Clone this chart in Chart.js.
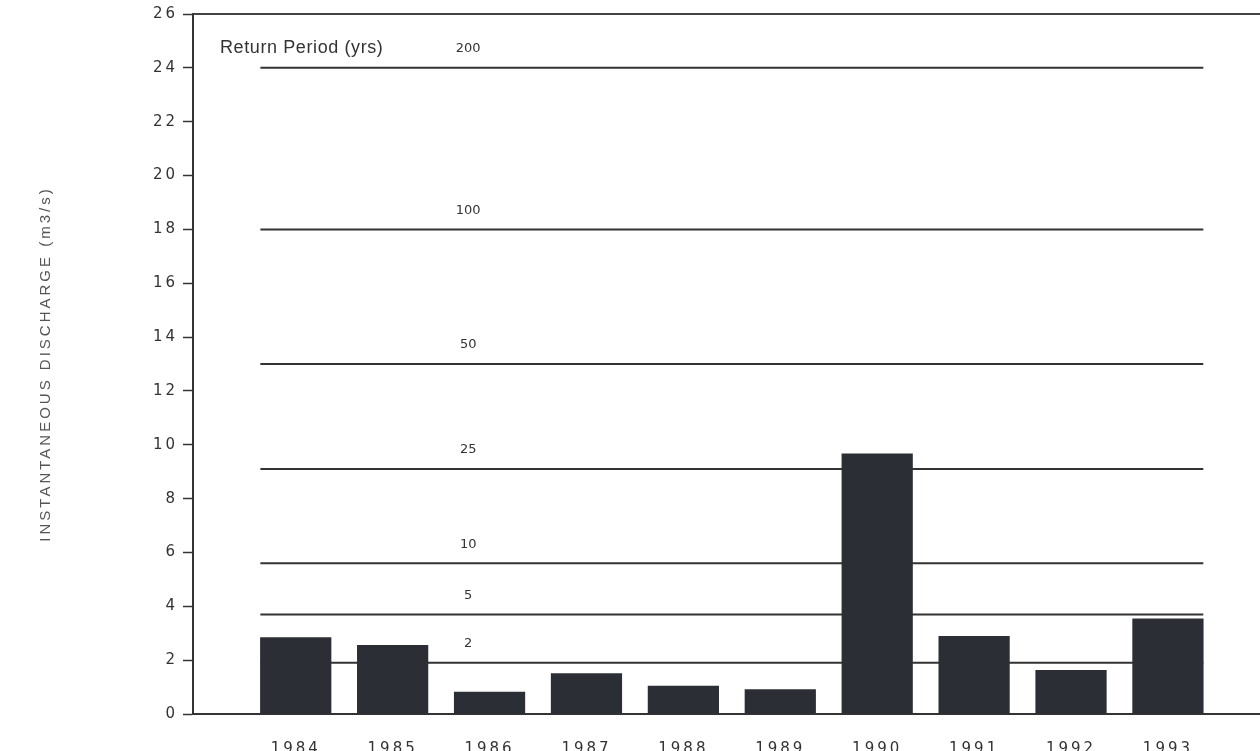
<!DOCTYPE html>
<html>
<head>
<meta charset="utf-8">
<script src="https://cdn.jsdelivr.net/npm/chart.js@4/dist/chart.umd.min.js"></script>
<style>
  html, body { margin: 0; padding: 0; background: #fff; }
  #wrap { width: 1260px; height: 751px; }
</style>
</head>
<body>
<div id="wrap"><canvas id="chart"></canvas></div>
<script>
// annual peak instantaneous discharge
const years = [1984, 1985, 1986, 1987, 1988, 1989, 1990, 1991, 1992, 1993];
const discharge = [2.85, 2.56, 0.83, 1.51, 1.05, 0.92, 9.68, 2.9, 1.63, 3.55];

// return period thresholds
const periods = ["200", "100", "50", "25", "10", "5", "2"];
const periodFlows = [24, 18, 13, 9.1, 5.6, 3.7, 1.9];

const yTicks = [0, 2, 4, 6, 8, 10, 12, 14, 16, 18, 20, 22, 24, 26];

const halfBar = 0.365;
const labelYear = 1985.78;

const periodSets = periodFlows.map((v, i) => ({
  type: "line",
  label: periods[i],
  data: [
    { x: years[0] - halfBar, y: v },
    { x: years[years.length - 1] + halfBar, y: v },
  ],
  borderColor: "#333",
  borderWidth: 2,
  pointRadius: 0,
  order: 2,
}));

const overlay = {
  id: "overlay",
  beforeDraw(chart) {
    chart.ctx.letterSpacing = "3px";
  },
  afterDraw(chart) {
    const { ctx, chartArea, scales } = chart;
    ctx.save();
    ctx.letterSpacing = "0.6px";
    // top frame line
    ctx.strokeStyle = "#444";
    ctx.lineWidth = 2;
    ctx.beginPath();
    ctx.moveTo(chartArea.left, chartArea.top);
    ctx.lineTo(chartArea.right, chartArea.top);
    ctx.stroke();

    ctx.fillStyle = "#333";
    ctx.textBaseline = "middle";
    ctx.font = "18px 'Liberation Sans', Arial, sans-serif";
    ctx.textAlign = "left";
    ctx.fillText("Return Period (yrs)", chartArea.left + 27, scales.y.getPixelForValue(periodFlows[0]) - 20);

    ctx.letterSpacing = "0px";
    ctx.font = "13px 'DejaVu Sans', sans-serif";
    ctx.textAlign = "center";
    periods.forEach((p, i) => {
      ctx.fillText(p, scales.x.getPixelForValue(labelYear), scales.y.getPixelForValue(periodFlows[i]) - 19);
    });
    ctx.restore();
  },
};

new Chart(document.getElementById("chart"), {
  type: "bar",
  data: {
    datasets: [
      {
        label: "Discharge",
        data: years.map((y, i) => ({ x: y, y: discharge[i] })),
        backgroundColor: "#2b2e35",
        barPercentage: 0.735,
        categoryPercentage: 1,
        order: 1,
      },
      ...periodSets,
    ],
  },
  options: {
    responsive: true,
    maintainAspectRatio: false,
    animation: false,
    layout: { padding: { left: 32, top: 13, right: 0, bottom: 0 } },
    plugins: {
      legend: { display: false },
      tooltip: { enabled: false },
      title: { display: false },
    },
    scales: {
      x: {
        type: "linear",
        offset: false,
        min: 1982.94,
        max: 1993.95,
        afterBuildTicks: (scale) => {
          scale.ticks = years.map((v) => ({ value: v }));
        },
        afterFit: (scale) => {
          scale.height = 37;
        },
        grid: { display: false, offset: false },
        border: { display: true, color: "#333", width: 2 },
        ticks: {
          padding: 18,
          color: "#333",
          font: { family: "'DejaVu Sans', sans-serif", size: 15 },
          callback: (v) => String(v),
        },
      },
      y: {
        min: 0,
        max: 26,
        afterBuildTicks: (scale) => {
          scale.ticks = yTicks.map((v) => ({ value: v }));
        },
        afterFit: (scale) => {
          scale.width = 161;
        },
        grid: {
          drawOnChartArea: false,
          drawTicks: true,
          tickLength: 10,
          tickColor: "#333",
          tickWidth: 1.5,
        },
        border: { display: true, color: "#333", width: 2 },
        ticks: {
          padding: 5,
          color: "#333",
          font: { family: "'DejaVu Sans', sans-serif", size: 15 },
        },
        title: {
          display: true,
          text: "INSTANTANEOUS DISCHARGE (m3/s)",
          color: "#555",
          font: { family: "'Liberation Sans', Arial, sans-serif", size: 15 },
          padding: 5,
        },
      },
    },
  },
  plugins: [overlay],
});
</script>
</body>
</html>
